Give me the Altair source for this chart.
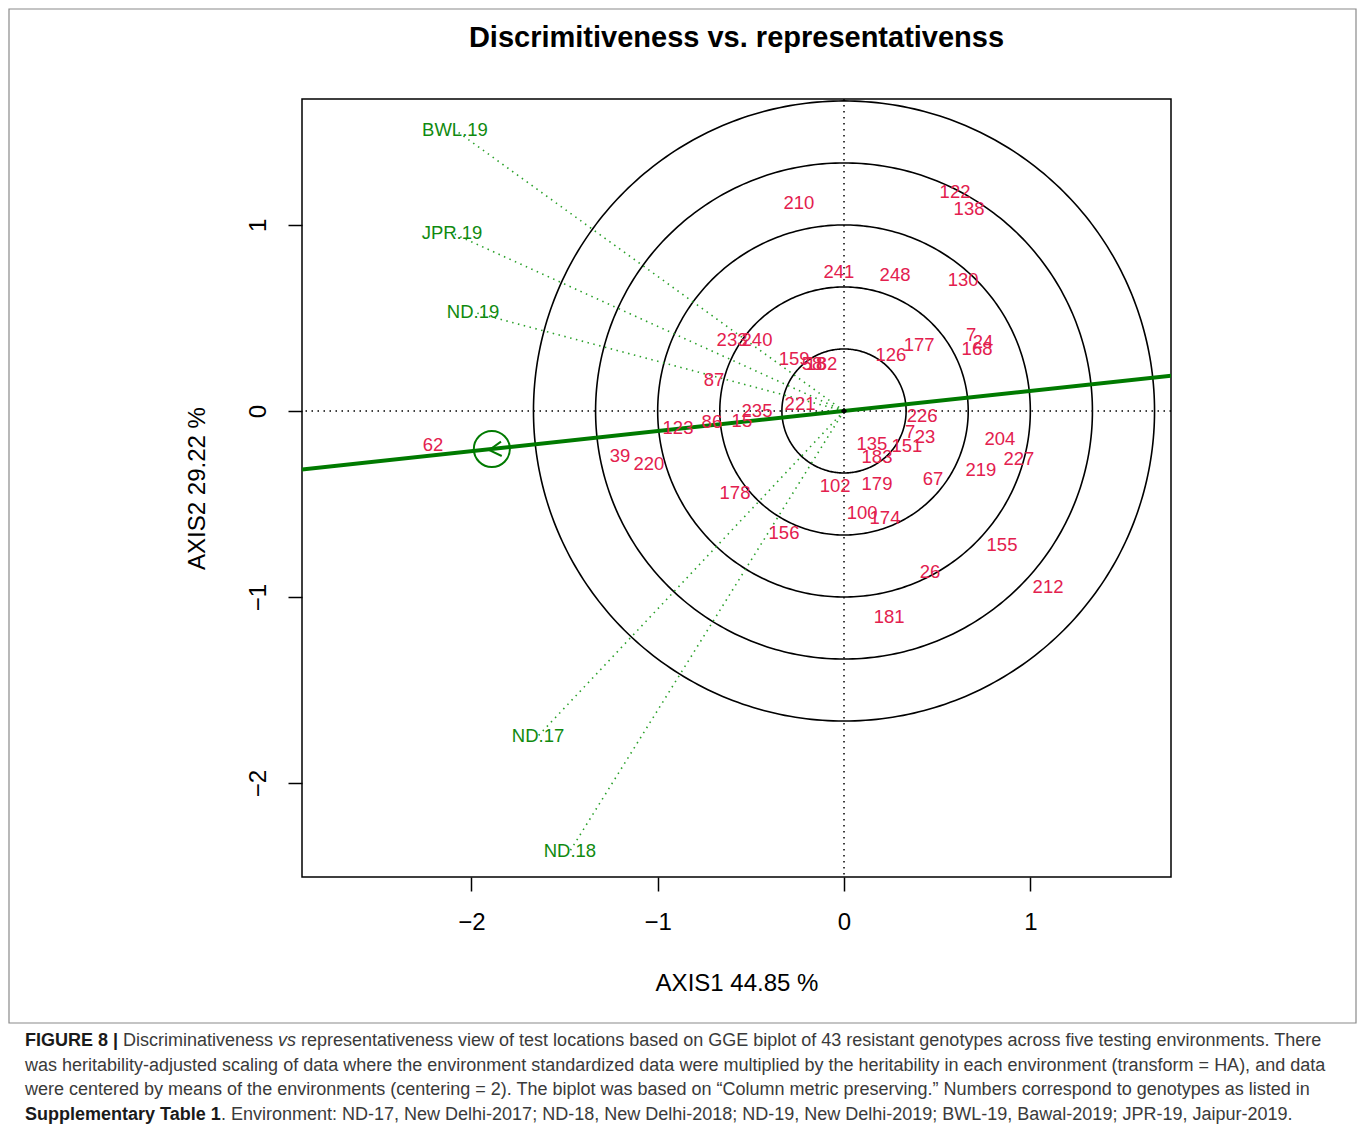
import numpy as np
import pandas as pd
import altair as alt

# ---------------- data ----------------
geno_names = ["210", "122", "138", "241", "248", "130", "233", "240", "7", "24", "168",
              "159", "58", "18", "82", "126", "177", "87", "235", "221", "226", "123",
              "86", "15", "135", "183", "151", "7", "23", "204", "227", "219", "39",
              "220", "62", "178", "102", "179", "67", "100", "174", "156", "155", "26",
              "212", "181"]
geno_x = [-0.242, 0.596, 0.671, -0.027, 0.274, 0.639, -0.601, -0.467, 0.682, 0.746, 0.714,
          -0.268, -0.172, -0.150, -0.091, 0.252, 0.403, -0.698, -0.467, -0.236, 0.419, -0.891,
          -0.709, -0.548, 0.150, 0.177, 0.338, 0.355, 0.435, 0.837, 0.939, 0.735, -1.202,
          -1.047, -2.206, -0.585, -0.048, 0.177, 0.478, 0.097, 0.220, -0.322, 0.848, 0.462,
          1.095, 0.242]
geno_y = [1.118, 1.177, 1.086, 0.747, 0.731, 0.704, 0.382, 0.382, 0.409, 0.372, 0.333,
          0.280, 0.253, 0.253, 0.253, 0.301, 0.355, 0.167, 0.000, 0.038, -0.027, -0.091,
          -0.059, -0.054, -0.177, -0.247, -0.188, -0.112, -0.140, -0.151, -0.258, -0.317, -0.242,
          -0.285, -0.183, -0.441, -0.403, -0.392, -0.366, -0.548, -0.575, -0.656, -0.720, -0.866,
          -0.946, -1.108]

env_names = ["BWL.19", "JPR.19", "ND.19", "ND.17", "ND.18"]
env_x = [-2.088, -2.104, -1.991, -1.642, -1.471]
env_y = [1.511, 0.957, 0.532, -1.747, -2.366]

avg_env_x = [-1.890]
avg_env_y = [-0.204]
arrow_x = [-1.841, -1.904, -1.837]
arrow_y = [-0.165, -0.210, -0.242]

circle_radii = [1 / 3, 2 / 3, 1.0, 4 / 3, 5 / 3]

x_ticks = [-2, -1, 0, 1]
y_ticks = [-2, -1, 0, 1]
X_DOMAIN = [-2.909, 1.755]
Y_DOMAIN = [-2.505, 1.677]

title_text = "Discrimitiveness vs. representativenss"
x_title = "AXIS1 44.85 %"
y_title = "AXIS2 29.22 %"

caption_l1_bold = "FIGURE 8 |"
caption_l1_a = "Discriminativeness"
caption_l1_it = "vs"
caption_l1_b = ("representativeness view of test locations based on GGE biplot of 43 resistant "
                "genotypes across five testing environments. There")
caption_l2 = ("was heritability-adjusted scaling of data where the environment standardized data "
              "were multiplied by the heritability in each environment (transform = HA), and data")
caption_l3 = ("were centered by means of the environments (centering = 2). The biplot was based on "
              "\u201cColumn metric preserving.\u201d Numbers correspond to genotypes as listed in")
caption_l4_bold = "Supplementary Table 1"
caption_l4 = (". Environment: ND-17, New Delhi-2017; ND-18, New Delhi-2018; ND-19, New Delhi-2019; "
              "BWL-19, Bawal-2019; JPR-19, Jaipur-2019.")

# ---------------- style ----------------
FONT = "Liberation Sans"
RED = "#E3204E"
GREEN = "#108A10"
LINE_GREEN = "#007A00"
W, H = 869, 778
PAD = {"left": 302, "top": 99, "right": 189, "bottom": 255}

axis_x = alt.Axis(values=x_ticks, title=x_title, grid=False, domain=False,
                  tickSize=14, tickWidth=1.5, tickColor="black",
                  labelFontSize=24, labelFont=FONT, labelColor="black",
                  labelBaseline="middle", labelPadding=31, labelFlush=False,
                  titleFontSize=24, titleFont=FONT, titleFontWeight="normal", titleColor="black",
                  titleX=W / 2, titleY=106, titleBaseline="middle", titleAlign="center")
axis_y = alt.Axis(values=y_ticks, title=y_title, grid=False, domain=False,
                  tickSize=14, tickWidth=1.5, tickColor="black",
                  labelFontSize=24, labelFont=FONT, labelColor="black",
                  labelAngle=270, labelAlign="center", labelBaseline="middle",
                  labelPadding=30, labelFlush=False,
                  titleFontSize=24, titleFont=FONT, titleFontWeight="normal", titleColor="black",
                  titleAngle=270, titleX=-105, titleY=H / 2, titleBaseline="middle",
                  titleAlign="center")


def X(field):
    return alt.X(field, type="quantitative",
                 scale=alt.Scale(domain=X_DOMAIN, nice=False, zero=False), axis=axis_x)


def Y(field):
    return alt.Y(field, type="quantitative",
                 scale=alt.Scale(domain=Y_DOMAIN, nice=False, zero=False), axis=axis_y)


# ---------------- tables ----------------
geno_df = pd.DataFrame({"name": geno_names, "x": geno_x, "y": geno_y})
env_df = pd.DataFrame({"name": env_names, "x": env_x, "y": env_y,
                       "x0": [0.0] * len(env_names), "y0": [0.0] * len(env_names)})

theta = np.linspace(0, 2 * np.pi, 361)
circ_rows = []
for r in circle_radii:
    for i, t in enumerate(theta):
        circ_rows.append({"r": r, "i": i, "x": r * np.cos(t), "y": r * np.sin(t)})
circ_df = pd.DataFrame(circ_rows)

slope = avg_env_y[0] / avg_env_x[0]
aea_df = pd.DataFrame({"x": [X_DOMAIN[0] - 0.5, X_DOMAIN[1] + 0.5]})
aea_df["y"] = aea_df["x"] * slope
avg_df = pd.DataFrame({"x": avg_env_x, "y": avg_env_y})
arrow_df = pd.DataFrame({"x": arrow_x, "y": arrow_y, "i": list(range(len(arrow_x)))})
origin_df = pd.DataFrame({"x": [0.0], "y": [0.0]})
one = pd.DataFrame({"a": [0]})

# ---------------- layers ----------------
circles = alt.Chart(circ_df).mark_line(color="black", strokeWidth=1.6, clip=True).encode(
    x=X("x"), y=Y("y"), detail="r:N", order="i:Q")

hdot = alt.Chart(origin_df).mark_rule(color="black", strokeWidth=1.5, strokeDash=[1.5, 4.5]).encode(
    y=Y("y"))
vdot = alt.Chart(origin_df).mark_rule(color="black", strokeWidth=1.5, strokeDash=[1.5, 4.5]).encode(
    x=X("x"))

env_vec = alt.Chart(env_df).mark_rule(color="#2AA02A", strokeWidth=1.6, strokeDash=[1.5, 4.5]).encode(
    x=X("x0"), y=Y("y0"), x2="x", y2="y")

aea = alt.Chart(aea_df).mark_line(color=LINE_GREEN, strokeWidth=4, clip=True).encode(
    x=X("x"), y=Y("y"))

avg_circle = alt.Chart(avg_df).mark_point(shape="circle", filled=False, size=1300,
                                          color=LINE_GREEN, strokeWidth=2, opacity=1).encode(
    x=X("x"), y=Y("y"))

arrow = alt.Chart(arrow_df).mark_line(color=LINE_GREEN, strokeWidth=2).encode(
    x=X("x"), y=Y("y"), order="i:Q")

geno_txt = alt.Chart(geno_df).mark_text(font=FONT, fontSize=18.5, color=RED,
                                        align="center", baseline="middle").encode(
    x=X("x"), y=Y("y"), text="name:N")

env_txt = alt.Chart(env_df).mark_text(font=FONT, fontSize=18.5, color=GREEN,
                                      align="center", baseline="middle").encode(
    x=X("x"), y=Y("y"), text="name:N")

center_dot = alt.Chart(origin_df).mark_point(shape="diamond", filled=True, size=40,
                                             color="black", opacity=1).encode(x=X("x"), y=Y("y"))

# decorations in pixel space (relative to plot origin)
L, T = PAD["left"], PAD["top"]
frame = alt.Chart(one).mark_rect(fill=None, stroke="#8a8a8a", strokeWidth=1.2).encode(
    x=alt.value(9 - L), x2=alt.value(1356 - L), y=alt.value(9 - T), y2=alt.value(1023 - T))

title = alt.Chart(one).mark_text(font=FONT, fontSize=29, fontWeight="bold", color="black",
                                 align="center", baseline="middle").encode(
    x=alt.value(W / 2), y=alt.value(38 - T), text=alt.value(title_text))


def cap(txt, x, y, weight="normal", style="normal", color="#3a3a3a"):
    return alt.Chart(one).mark_text(font=FONT, fontSize=18, fontWeight=weight, fontStyle=style,
                                    color=color, align="left", baseline="middle").encode(
        x=alt.value(x - L), y=alt.value(y - T), text=alt.value(txt))


caption = [
    cap(caption_l1_bold, 25, 1041, weight="bold", color="#1a1a1a"),
    cap(caption_l1_a, 123, 1041),
    cap(caption_l1_it, 278, 1041, style="italic"),
    cap(caption_l1_b, 301, 1041),
    cap(caption_l2, 25, 1066),
    cap(caption_l3, 25, 1090),
    cap(caption_l4_bold, 25, 1115, weight="bold", color="#1a1a1a"),
    cap(caption_l4, 221, 1115),
]

chart = alt.layer(
    circles, hdot, vdot, env_vec, aea, avg_circle, arrow, geno_txt, env_txt, center_dot,
    frame, title, *caption
).properties(
    width=W, height=H, padding=PAD, autosize=alt.AutoSizeParams(type="none"),
    background="white"
).configure_view(stroke="black", strokeWidth=1.5)

chart.save("out.html", embed_options={"renderer": "svg", "actions": False})
